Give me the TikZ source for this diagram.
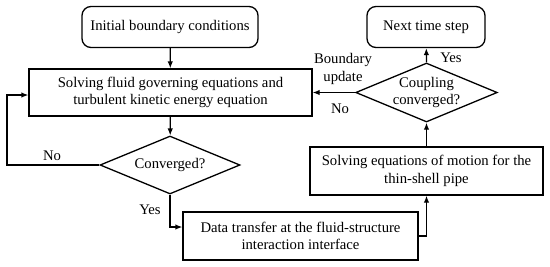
\documentclass[tikz,border=0pt]{standalone}
\usepackage{fontspec}
\setmainfont{Liberation Serif}
\usetikzlibrary{shapes.geometric,arrows.meta}
\begin{document}
\begin{tikzpicture}[x=1pt,y=-1pt,
  every node/.style={font=\fontsize{14.7}{17.5}\selectfont},
  box/.style={draw,line width=1.3pt,minimum width=#1,align=center,inner sep=2pt},
  rbox/.style={draw,line width=1.3pt,rounded corners=9pt,align=center},
  dia/.style={draw,line width=1.3pt,diamond,aspect=2.4,align=center,inner sep=0pt},
  arr/.style={line width=1.3pt,-{Latex[length=7pt,width=5.5pt]}},
  lbl/.style={font=\fontsize{14.7}{17.5}\selectfont}]
\useasboundingbox (0,0) rectangle (550,266);
\node[rbox,minimum width=176pt,minimum height=41pt] (init) at (170,27) {Initial boundary conditions};
\node[box=283pt,minimum height=47pt] (fluid) at (170.5,92.5) {Solving fluid governing equations and\\turbulent kinetic energy equation};
\node[dia,minimum width=140pt,minimum height=58pt] (conv) at (170,165) {Converged?};
\node[box=235pt,minimum height=48pt] (data) at (300.5,236) {Data transfer at the fluid-structure\\interaction interface};
\node[box=233pt,minimum height=48pt] (motion) at (426.5,171) {Solving equations of motion for the\\thin-shell pipe};
\node[dia,minimum width=139pt,minimum height=59pt] (coup) at (426.5,92.5) {Coupling\\converged?};
\node[rbox,minimum width=118pt,minimum height=41pt] (next) at (426,27) {Next time step};
\coordinate (lc) at (7,95);
\coordinate (yc) at (170,227);
\coordinate (dc) at (426.5,236);
\draw[arr] (init) -- (fluid);
\draw[arr] (fluid) -- (conv);
\draw[arr] (conv.west) -| (lc) -- (fluid.west |- lc);
\node[lbl] (no1) at (52,156) {No};
\draw[arr] (conv.south) |- (data.west |- yc);
\node[lbl] (yes1) at (150,210) {Yes};
\draw[arr] (data.east) -- (dc) -- (motion.south);
\draw[arr] (motion) -- (coup);
\draw[arr] (coup.west) -- (fluid.east |- coup.west);
\node[lbl,align=center] (bu) at (343,69) {Boundary\\update};
\node[lbl] (no2) at (340,109) {No};
\draw[arr] (coup.north) -- (next);
\node[lbl] (yes2) at (451,58) {Yes};
\end{tikzpicture}
\end{document}
